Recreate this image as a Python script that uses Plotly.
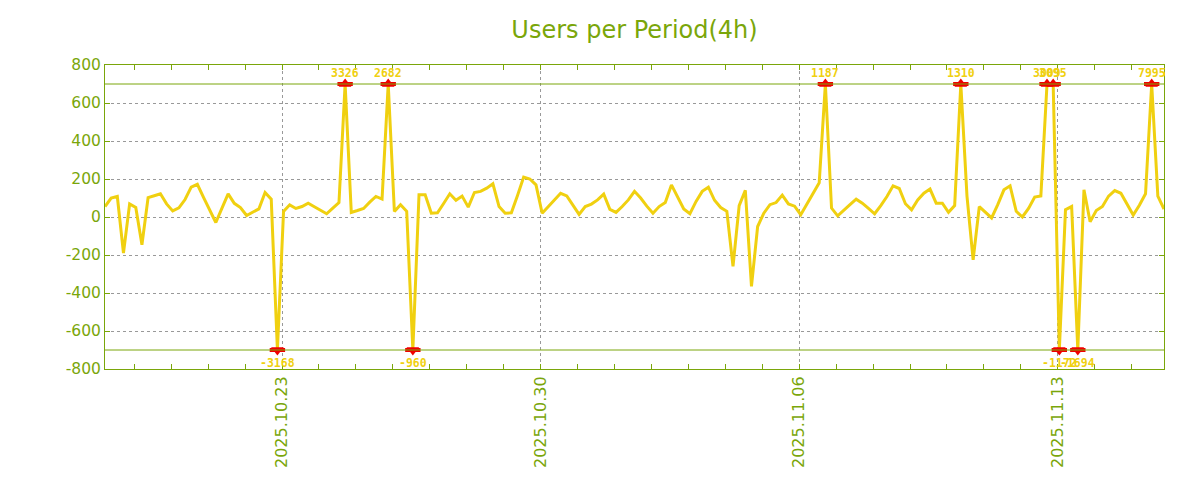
import pandas as pd
import plotly.graph_objects as go

# ---- data (users per 4h period) ----
START = "2025-10-18 05:00"
PERIOD = "4h"
users = [
    55, 100, 108, -190, 69, 50, -146, 102, 112, 122,
    69, 32, 48, 92, 157, 172, 103, 38, -29, 47,
    122, 72, 50, 8, 26, 43, 129, 94, -3168, 29,
    64, 45, 55, 73, 54, 34, 17, 47, 76, 3326,
    24, 34, 45, 78, 108, 94, 2682, 29, 65, 30,
    -960, 117, 117, 20, 22, 71, 122, 88, 110, 52,
    129, 135, 152, 175, 55, 20, 22, 113, 210, 200,
    169, 20, 55, 90, 125, 111, 62, 14, 55, 68,
    90, 120, 40, 24, 55, 90, 135, 100, 57, 20,
    55, 76, 169, 106, 42, 17, 82, 135, 157, 88,
    50, 30, -260, 60, 140, -365, -50, 20, 65, 76,
    115, 69, 57, 12, 67, 124, 180, 1187, 47, 6,
    38, 65, 94, 73, 45, 17, 60, 108, 164, 150,
    70, 38, 90, 125, 147, 73, 73, 25, 60, 1310,
    110, -225, 55, 25, -5, 65, 143, 164, 30, 0,
    45, 105, 111, 3009, 3095, -1172, 38, 55, -1694, 143,
    -25, 34, 55, 110, 139, 125, 65, 10, 62, 122,
    7995, 110, 42,
]
CLIP = 700
y_ticks = [-800, -600, -400, -200, 0, 200, 400, 600, 800]
y_tick_text = [str(v) for v in y_ticks]
title_text = "Users per Period(4h)"

# ---- styles ----
GREEN = "#7aa60a"
YELLOW = "#f0d010"
RED = "#f00000"
GRID = "#999999"
FONT = "DejaVu Sans"

times = pd.date_range(START, periods=len(users), freq=PERIOD)
df = pd.DataFrame({"t": times, "v": users})
df["clipped"] = df["v"].clip(-CLIP, CLIP)
hi = df[df["v"] > CLIP]
lo = df[df["v"] < -CLIP]

fig = go.Figure()
fig.add_trace(go.Scatter(x=df["t"], y=df["clipped"], mode="lines",
                         line=dict(color=YELLOW, width=3), hoverinfo="skip",
                         showlegend=False))

for sub, tri in ((hi, "triangle-up"), (lo, "triangle-down")):
    ylev = sub["clipped"]
    fig.add_trace(go.Scatter(x=sub["t"], y=ylev, mode="markers",
                             marker=dict(symbol=tri, size=11, color=RED),
                             showlegend=False, hoverinfo="skip"))
    fig.add_trace(go.Scatter(x=sub["t"], y=ylev, mode="markers",
                             marker=dict(symbol="line-ew", size=11,
                                         line=dict(color=RED, width=4)),
                             showlegend=False, hoverinfo="skip"))

for sub, shift in ((hi, 11), (lo, -13)):
    for t, v, c in zip(sub["t"], sub["v"], sub["clipped"]):
        fig.add_annotation(x=t, y=c, text=str(v), showarrow=False, yshift=shift,
                           font=dict(family="DejaVu Sans Mono", size=11.5,
                                     color=YELLOW, weight="bold"))

for lev in (CLIP, -CLIP):
    fig.add_shape(type="line", xref="paper", x0=0, x1=1, yref="y", y0=lev, y1=lev,
                  line=dict(color=GREEN, width=1), layer="above")

fig.update_layout(
    width=1200, height=500,
    margin=dict(l=97, r=44, t=57, b=139),
    paper_bgcolor="white", plot_bgcolor="white",
    title=dict(text=title_text, x=0.5, xref="paper", y=1 - 22 / 500, yref="container",
               xanchor="center", yanchor="middle",
               font=dict(family=FONT, size=24, color=GREEN)),
    font=dict(family=FONT, color=GREEN),
)
fig.update_xaxes(
    type="date", range=[times[0], times[-1]],
    tick0="2025-10-23", dtick=7 * 86400000, tickformat="%Y.%m.%d", tickangle=-90,
    tickfont=dict(family=FONT, size=16, color=GREEN),
    showgrid=True, gridcolor=GRID, griddash="dot", gridwidth=1,
    ticks="inside", ticklen=5, tickcolor=GREEN,
    minor=dict(dtick=86400000, ticks="inside", ticklen=5, tickcolor=GREEN, showgrid=False),
    showline=True, linecolor=GREEN, linewidth=1, mirror="ticks", zeroline=False,
)
fig.update_yaxes(
    range=[-800, 800], tickvals=y_ticks, ticktext=y_tick_text,
    tickfont=dict(family=FONT, size=15.5, color=GREEN),
    showgrid=True, gridcolor=GRID, griddash="dot", gridwidth=1,
    ticks="inside", ticklen=5, tickcolor=GREEN,
    showline=True, linecolor=GREEN, linewidth=1, mirror="ticks", zeroline=False,
)

fig.write_html("out.html")
